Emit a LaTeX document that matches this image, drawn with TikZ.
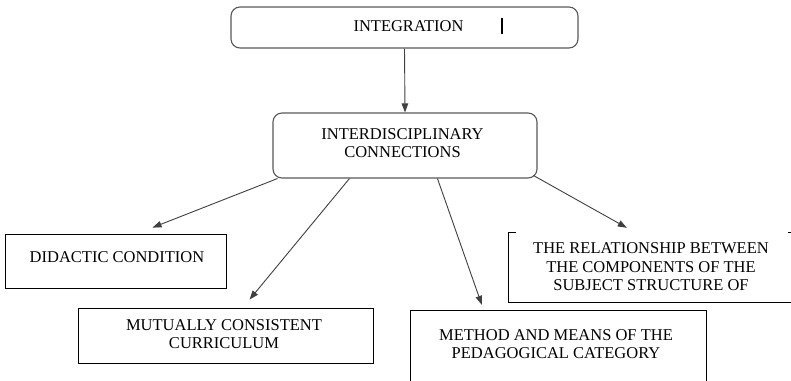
\documentclass[tikz,border=0pt]{standalone}
\usepackage{fontspec}
\setmainfont{Liberation Serif}
\usetikzlibrary{arrows.meta,calc}
\begin{document}
\begin{tikzpicture}[x=1pt,y=-1pt,
  rbox/.style={draw=black!65, line width=1.1pt, rounded corners=9pt, inner sep=0pt},
  sbox/.style={draw=black, line width=0.9pt, inner sep=0pt},
  hidbox/.style={inner sep=0pt},
  txt/.style={font=\fontsize{16.5}{18.5}\selectfont, align=center, inner sep=0pt, text=black},
  arr/.style={draw=black!75, line width=0.9pt, -{Triangle[length=9pt,width=6.5pt]}},
  part/.style={draw=black, line width=0.9pt}]
\fill[white] (0,0) rectangle (791,380);
\useasboundingbox (0,0) rectangle (791,380);
\clip (0,0) rectangle (791,380);

% boxes
\node[rbox, minimum width=347pt, minimum height=41pt] (integ) at (404.5,27.5) {};
\node[txt] (integt) at (408.5,26.5) {INTEGRATION};

\node[rbox, minimum width=264pt, minimum height=65pt] (inter) at (405,145.5) {};
\node[txt] (intert) at (402.5,143) {INTERDISCIPLINARY\\CONNECTIONS};

\node[sbox, minimum width=221pt, minimum height=54pt] (did) at (115.5,261) {};
\node[txt] (didt) at (117,257) {DIDACTIC CONDITION};

\node[sbox, minimum width=295pt, minimum height=55pt] (mut) at (225.5,335.5) {};
\node[txt] (mutt) at (224,334) {MUTUALLY CONSISTENT\\CURRICULUM};

\node[hidbox, minimum width=282pt, minimum height=69pt] (rel) at (650,267.5) {};
\node[txt] (relt) at (651,267) {THE RELATIONSHIP BETWEEN\\THE COMPONENTS OF THE\\SUBJECT STRUCTURE OF};
\draw[part] ($(rel.north west)+(7,0)$) -- (rel.north west) -- (rel.south west) -- (rel.south east);
\draw[part] ($(rel.north east)+(-3,0)$) -- (rel.north east);

\node[hidbox, minimum width=295pt, minimum height=89pt] (meth) at (558.5,355.5) {};
\node[txt] (metht) at (556,344) {METHOD AND MEANS OF THE\\PEDAGOGICAL CATEGORY};
\draw[part] (meth.south west) -- (meth.north west) -- (meth.north east) -- (meth.south east);

% cursor mark
\draw[line width=2pt] ($(integ.north west)+(272,12)$) -- ++(0,16);

% connectors
\draw[arr] (integ.south) -- (inter.north);
\draw[arr] ($(inter.south west)+(5,0)$) -- ($(did.north west)+(148,-6)$);
\draw[arr] ($(inter.south west)+(77,0)$) -- ($(mut.north west)+(172,-8)$);
\draw[arr] ($(inter.south west)+(165,0)$) -- ($(meth.north west)+(71,-6)$);
\draw[arr] ($(inter.south east)+(-4,-3)$) -- ($(rel.north west)+(118,-5)$);
\end{tikzpicture}
\end{document}
